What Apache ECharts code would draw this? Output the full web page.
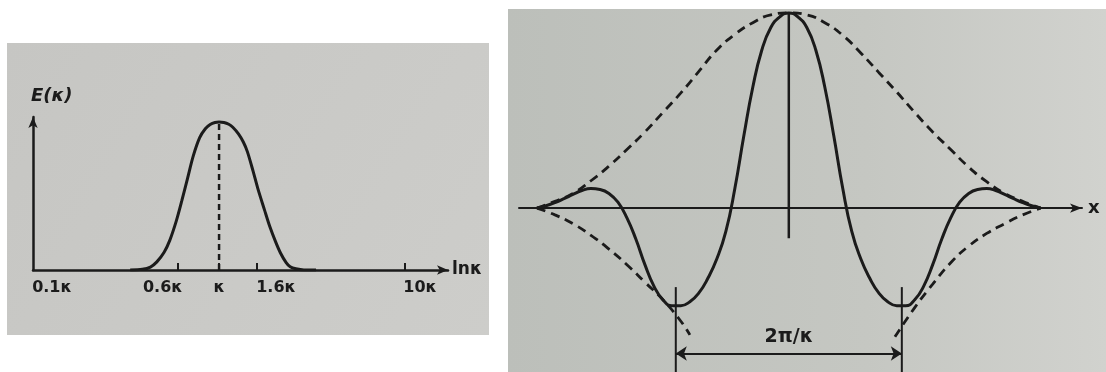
<!DOCTYPE html>
<html>
<head>
<meta charset="utf-8">
<title>Energy spectrum and wave packet</title>
<script src="https://cdn.jsdelivr.net/npm/echarts@6/dist/echarts.min.js"></script>
<style>
  html, body { margin: 0; padding: 0; background: #ffffff; }
  #chart { width: 1106px; height: 372px; }
</style>
</head>
<body>
<div id="chart"></div>
<script>
// ---- Spectrum E(κ) against ln κ (left panel) ----
const tickRatios = [0.1, 0.6, 1, 1.6, 10];           // wavenumber / κ
const tickLabels = ['0.1κ', '0.6κ', 'κ', '1.6κ', '10κ'];
const markedRatios = [0.6, 1, 1.6, 10];               // ratios that carry a tick mark

const spectrumLnK = [-1.1, -0.95, -0.85, -0.77, -0.68, -0.61, -0.53, -0.46, -0.39, -0.32,
  -0.24, -0.17, -0.11, -0.05, 0, 0.06, 0.12, 0.17, 0.24, 0.30, 0.35, 0.42, 0.48, 0.56,
  0.63, 0.70, 0.76, 0.83, 0.88, 0.95, 1.05, 1.2];
const spectrumE = [0, 0.005, 0.02, 0.055, 0.12, 0.20, 0.33, 0.47, 0.62, 0.77,
  0.895, 0.955, 0.983, 0.997, 1.0, 0.997, 0.985, 0.965, 0.92, 0.865, 0.80, 0.67, 0.55, 0.41,
  0.29, 0.19, 0.115, 0.05, 0.022, 0.008, 0, 0];
const spectrumPeak = 1.0;

// ---- Wave packet u(κx) with its envelope (right panel) ----
const waveX = [-7, -6.75, -6.5, -6.25, -6, -5.75, -5.5, -5.25, -5, -4.75, -4.5, -4.25, -4,
  -3.75, -3.5, -3.25, -3, -2.75, -2.5, -2.25, -2, -1.75, -1.5, -1.25, -1, -0.75, -0.5,
  -0.25, 0, 0.25, 0.5, 0.75, 1, 1.25, 1.5, 1.75, 2, 2.25, 2.5, 2.75, 3, 3.25, 3.5, 3.75,
  4, 4.25, 4.5, 4.75, 5, 5.25, 5.5, 5.75, 6, 6.25, 6.5, 6.75, 7];
const waveU = [0, 0.012, 0.028, 0.048, 0.07, 0.09, 0.10, 0.095, 0.075, 0.03, -0.05, -0.16, -0.29,
  -0.40, -0.47, -0.50, -0.50, -0.48, -0.435, -0.36, -0.26, -0.12, 0.10, 0.37, 0.62, 0.81, 0.925,
  0.98, 1.0, 0.98, 0.925, 0.81, 0.62, 0.37, 0.10, -0.12, -0.26, -0.36, -0.435, -0.48, -0.50, -0.50, -0.47, -0.40,
  -0.29, -0.16, -0.05, 0.03, 0.075, 0.095, 0.10, 0.09, 0.07, 0.048, 0.028, 0.012, 0];

const envX = [-7, -6.5, -6, -5.5, -5, -4.5, -4, -3.5, -3, -2.5, -2, -1.5, -1, -0.5, 0,
  0.5, 1, 1.5, 2, 2.5, 3, 3.5, 4, 4.5, 5, 5.5, 6, 6.5, 7];
const envUpper = [0, 0.035, 0.075, 0.14, 0.215, 0.30, 0.39, 0.49, 0.59, 0.70, 0.81, 0.89, 0.95, 0.99, 1.0,
  0.99, 0.95, 0.885, 0.795, 0.695, 0.595, 0.49, 0.39, 0.30, 0.21, 0.135, 0.075, 0.035, 0];

const envLowerLeftX = [-7, -6.5, -6, -5.5, -5, -4.5, -4, -3.5, -3, -2.75];
const envLowerLeft = [0, -0.035, -0.08, -0.14, -0.21, -0.29, -0.38, -0.47, -0.58, -0.65];
const envLowerRightX = [2.95, 3.5, 4, 4.5, 5, 5.5, 6, 6.5, 7];
const envLowerRight = [-0.66, -0.51, -0.39, -0.28, -0.195, -0.13, -0.08, -0.035, 0];

const stemTop = 1.0, stemBottom = -0.155;      // vertical line through the packet centre
const troughX = [-3.1416, 3.1416];             // troughs one wavelength apart
const dimTop = -0.405, dimLineY = -0.745;      // extent of the 2π/κ dimension
const dimLabel = '2π/κ';

// ---- styling ----
const INK = '#1b1b1b';
const FONT = 'DejaVu Sans';
const zip = (xs, ys) => xs.map((x, i) => [x, ys[i]]);

const lnTicks = tickRatios.map(Math.log);
const lnMarked = markedRatios.map(Math.log);

// label offsets so each tick label sits where it is printed
const labelRich = {
  t0: { padding: [0, 0, 0, 38] },
  t1: { padding: [0, 30, 0, 0] },
  t2: { padding: [0, 0, 0, 0] },
  t3: { padding: [0, 0, 0, 38] },
  t4: { padding: [0, 0, 0, 30] }
};
Object.keys(labelRich).forEach(k => Object.assign(labelRich[k], {
  fontFamily: FONT, fontWeight: 'bold', fontSize: 16, color: INK
}));

const chart = echarts.init(document.getElementById('chart'), null, { renderer: 'canvas' });

const lineSeries = (name, xi, yi, data, style, extra) => Object.assign({
  name, type: 'line', xAxisIndex: xi, yAxisIndex: yi, data,
  showSymbol: false, symbol: 'none', silent: true,
  lineStyle: Object.assign({ color: INK }, style)
}, extra || {});

const DASH = { width: 2.8, type: [9, 6] };

chart.setOption({
  animation: false,
  backgroundColor: '#ffffff',
  graphic: [
    {
      type: 'rect', z: -10, silent: true,
      shape: { x: 7, y: 43, width: 482, height: 292 },
      style: { fill: new echarts.graphic.LinearGradient(0, 0, 1, 1, [
        { offset: 0, color: '#c6c6c3' }, { offset: 1, color: '#cdcdca' }]) }
    },
    {
      type: 'rect', z: -10, silent: true,
      shape: { x: 508, y: 9, width: 598, height: 363 },
      style: { fill: new echarts.graphic.LinearGradient(0, 0, 1, 0, [
        { offset: 0, color: '#bcbfba' }, { offset: 0.6, color: '#c5c7c2' }, { offset: 1, color: '#d1d2ce' }]) }
    }
  ],
  grid: [
    { left: 33, top: 117, width: 415, height: 153 },
    { left: 519, top: 9, width: 563, height: 363 }
  ],
  xAxis: [
    {
      gridIndex: 0, type: 'value', min: Math.log(0.1), max: 2.833,
      splitLine: { show: false },
      axisLine: { onZero: false, symbol: ['none', 'arrow'], symbolSize: [7, 11],
        lineStyle: { color: INK, width: 2.5 } },
      axisTick: { show: true, inside: true, length: 7, customValues: lnMarked,
        lineStyle: { color: INK, width: 2 } },
      axisLabel: {
        show: true, customValues: lnTicks, margin: 10,
        fontFamily: FONT, fontWeight: 'bold', fontSize: 16, color: INK,
        formatter: function (v) {
          let best = 0;
          lnTicks.forEach((t, i) => { if (Math.abs(t - v) < Math.abs(lnTicks[best] - v)) best = i; });
          return '{t' + best + '|' + tickLabels[best] + '}';
        },
        rich: labelRich
      },
      name: 'lnκ', nameLocation: 'end', nameGap: 4,
      nameTextStyle: { fontFamily: FONT, fontWeight: 'bold', fontSize: 17, color: INK,
        padding: [0, 0, 14, 0] }
    },
    {
      gridIndex: 1, type: 'value', min: -7.5, max: 8.15,
      splitLine: { show: false },
      axisLine: { onZero: true, symbol: ['none', 'arrow'], symbolSize: [7, 12],
        lineStyle: { color: INK, width: 2 } },
      axisTick: { show: false },
      axisLabel: { show: false },
      name: 'x', nameLocation: 'end', nameGap: 6,
      nameTextStyle: { fontFamily: FONT, fontWeight: 'bold', fontSize: 18, color: INK,
        padding: [0, 0, 18, 0] }
    }
  ],
  yAxis: [
    {
      gridIndex: 0, type: 'value', min: 0, max: 1.034,
      splitLine: { show: false },
      axisTick: { show: false },
      axisLabel: { show: false },
      axisLine: { onZero: false, symbol: ['none', 'arrow'], symbolSize: [7, 11],
        lineStyle: { color: INK, width: 2.5 } },
      name: 'E(κ)', nameLocation: 'end', nameGap: 12,
      nameTextStyle: { fontFamily: FONT, fontWeight: 'bold', fontStyle: 'italic', fontSize: 18,
        color: INK, align: 'left', padding: [0, 0, 0, -2] }
    },
    {
      gridIndex: 1, type: 'value', min: -0.84, max: 1.02, show: false,
      splitLine: { show: false }
    }
  ],
  series: [
    lineSeries('spectrum', 0, 0, zip(spectrumLnK, spectrumE), { width: 3 }, { smooth: 0.3 }),
    lineSeries('peak', 0, 0, [[0, 0], [0, spectrumPeak]], { width: 2.5, type: [6, 4] }),

    lineSeries('envelope', 1, 1, zip(envX, envUpper), DASH, { smooth: 0.5 }),
    lineSeries('envelope lower left', 1, 1, zip(envLowerLeftX, envLowerLeft), DASH, { smooth: 0.5 }),
    lineSeries('envelope lower right', 1, 1, zip(envLowerRightX, envLowerRight), DASH, { smooth: 0.5 }),
    lineSeries('wave', 1, 1, zip(waveX, waveU), { width: 3 }, { smooth: 0.5 }),
    lineSeries('centre', 1, 1, [[0, stemTop], [0, stemBottom]], { width: 2.5 }),
    lineSeries('trough left', 1, 1, [[troughX[0], dimTop], [troughX[0], -0.84]], { width: 2 }),
    lineSeries('trough right', 1, 1, [[troughX[1], dimTop], [troughX[1], -0.84]], { width: 2 }, {
      markLine: {
        silent: true, symbol: ['arrow', 'arrow'], symbolSize: 11, precision: 4,
        lineStyle: { color: INK, width: 2, type: 'solid' },
        label: { show: true, position: 'insideMiddleTop', distance: 7, formatter: dimLabel,
          fontFamily: FONT, fontWeight: 'bold', fontSize: 19, color: INK },
        data: [[{ coord: [troughX[0], dimLineY] }, { coord: [troughX[1], dimLineY] }]]
      }
    })
  ]
});
</script>
</body>
</html>
